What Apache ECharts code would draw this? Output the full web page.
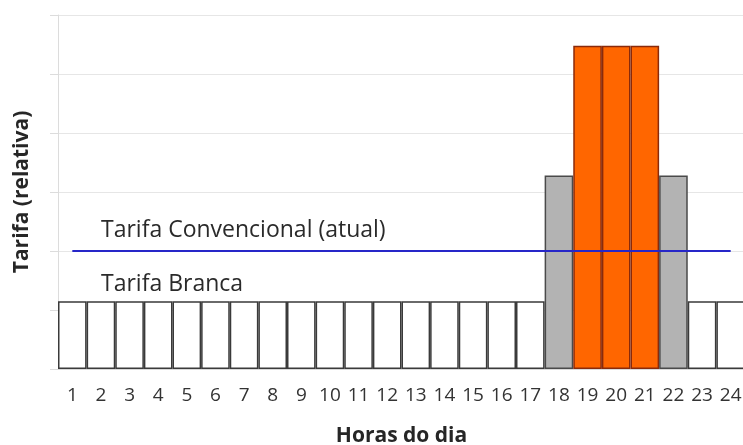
<!DOCTYPE html>
<html>
<head>
<meta charset="utf-8">
<script src="https://cdn.jsdelivr.net/npm/echarts@6/dist/echarts.min.js"></script>
<style>
  html, body { margin: 0; padding: 0; background: #ffffff; }
  #chart { width: 743px; height: 445px; }
</style>
</head>
<body>
<div id="chart"></div>
<script>
// Hours of the day (x categories)
const hours = ['1','2','3','4','5','6','7','8','9','10','11','12','13','14','15','16','17','18','19','20','21','22','23','24'];
// Relative "Tarifa Branca" value for each hour
const tarifaBranca = [1.15,1.15,1.15,1.15,1.15,1.15,1.15,1.15,1.15,1.15,1.15,1.15,1.15,1.15,1.15,1.15,1.15,3.28,5.48,5.48,5.48,3.28,1.15,1.15];
// Tariff period of each hour
const periodo = ['fora','fora','fora','fora','fora','fora','fora','fora','fora','fora','fora','fora','fora','fora','fora','fora','fora','intermediario','ponta','ponta','ponta','intermediario','fora','fora'];
// Conventional flat tariff
const tarifaConvencional = 2;
const yTicks = [0, 1, 2, 3, 4, 5, 6];

const estilos = {
  fora: { color: '#ffffff', borderColor: '#3a3a3a' },
  intermediario: { color: '#b3b3b3', borderColor: '#4a4a4a' },
  ponta: { color: '#ff6600', borderColor: '#8a2a0a' }
};

const font = '"Open Sans", "Noto Sans", sans-serif';
const chart = echarts.init(document.getElementById('chart'));

chart.setOption({
  backgroundColor: '#ffffff',
  animation: false,
  grid: { left: 58, top: 15, width: 687, bottom: 76, outerBoundsMode: 'none', containLabel: false },
  xAxis: {
    type: 'category',
    data: hours,
    name: 'Horas do dia',
    nameLocation: 'middle',
    nameGap: 57,
    nameTextStyle: { fontFamily: font, fontSize: 21, fontWeight: 'bold', color: '#262626' },
    axisLine: { show: true, lineStyle: { color: '#d9d9d9' } },
    axisTick: { show: false },
    axisLabel: { fontFamily: font, fontSize: 19, color: '#333333', margin: 17, interval: 0 }
  },
  yAxis: {
    type: 'value',
    min: yTicks[0],
    max: yTicks[yTicks.length - 1],
    interval: 1,
    name: 'Tarifa (relativa)',
    nameLocation: 'middle',
    nameRotate: 90,
    nameGap: 25,
    nameTextStyle: { fontFamily: font, fontSize: 21, fontWeight: 'bold', color: '#262626' },
    axisLine: { show: true, lineStyle: { color: '#dcdcdc' } },
    axisTick: { show: true, length: 8, lineStyle: { color: '#dcdcdc' } },
    axisLabel: { show: false },
    splitLine: { lineStyle: { color: '#e6e6e6' } }
  },
  series: [{
    type: 'bar',
    barCategoryGap: '0%',
    data: tarifaBranca.map((v, i) => ({
      value: v,
      itemStyle: { color: estilos[periodo[i]].color, borderColor: estilos[periodo[i]].borderColor, borderWidth: 1.5 }
    })),
    markLine: {
      silent: true,
      symbol: 'none',
      label: { show: false },
      lineStyle: { color: '#2626c8', width: 2, type: 'solid' },
      data: [[{ coord: [hours[0], tarifaConvencional] }, { coord: [hours[hours.length - 1], tarifaConvencional] }]]
    }
  }],
  graphic: [
    { type: 'text', left: 101, top: 219, style: { text: 'Tarifa Convencional (atual)', font: '23px ' + font, fill: '#2a2a2a' } },
    { type: 'text', left: 101, top: 273, style: { text: 'Tarifa Branca', font: '23px ' + font, fill: '#2a2a2a' } }
  ]
});
</script>
</body>
</html>
